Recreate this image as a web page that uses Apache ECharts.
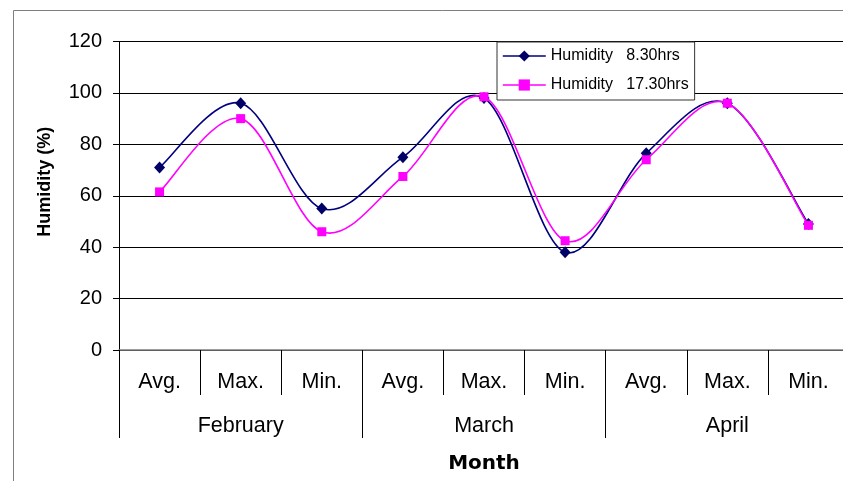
<!DOCTYPE html>
<html>
<head>
<meta charset="utf-8">
<script src="https://cdn.jsdelivr.net/npm/echarts@6/dist/echarts.min.js"></script>
<style>
  html, body { margin: 0; padding: 0; background: #fff; overflow: hidden; }
  #chart { width: 870px; height: 481px; }
</style>
</head>
<body>
<div id="chart"></div>
<script>
// Sub-categories per month and the month groups beneath them
const statLabels = ['Avg.', 'Max.', 'Min.', 'Avg.', 'Max.', 'Min.', 'Avg.', 'Max.', 'Min.'];
const months = ['February', 'March', 'April'];

// Relative humidity (%) readings
const humidity830 = [71, 96, 55, 75, 98, 38, 76.5, 96, 49];
const humidity1730 = [61.5, 90, 46, 67.5, 98.5, 42.5, 74, 96, 48.5];

const yTicks = { min: 0, max: 120, step: 20 };

const seriesNames = ['Humidity   8.30hrs', 'Humidity   17.30hrs'];
const navy = '#000080';
const magenta = '#ff00ff';
const font = '"Liberation Sans", Arial, sans-serif';

// Cardinal (Catmull-Rom) spline through the projected points, so the curve
// may swing slightly past a peak the way spreadsheet smoothing does.
function splinePath(values, api) {
  const pts = values.map((v, i) => api.coord([i, v]));
  let d = 'M' + pts[0][0] + ',' + pts[0][1];
  for (let i = 0; i < pts.length - 1; i++) {
    const p0 = pts[i - 1] || pts[i];
    const p1 = pts[i];
    const p2 = pts[i + 1];
    const p3 = pts[i + 2] || pts[i + 1];
    const c1x = p1[0] + (p2[0] - p0[0]) / 6;
    const c1y = p1[1] + (p2[1] - p0[1]) / 6;
    const c2x = p2[0] - (p3[0] - p1[0]) / 6;
    const c2y = p2[1] - (p3[1] - p1[1]) / 6;
    d += ' C' + c1x + ',' + c1y + ' ' + c2x + ',' + c2y + ' ' + p2[0] + ',' + p2[1];
  }
  return d;
}

function curveSeries(values, color, z) {
  return {
    type: 'custom',
    coordinateSystem: 'cartesian2d',
    data: [[0, values[0]]],
    clip: false,
    silent: true,
    z: z,
    renderItem: function (params, api) {
      return {
        type: 'path',
        shape: { pathData: splinePath(values, api) },
        style: { fill: null, stroke: color, lineWidth: 1.6, lineJoin: 'round', lineCap: 'round' }
      };
    }
  };
}

function markerSeries(name, values, color, symbol, size, z) {
  return {
    name: name,
    type: 'line',
    data: values,
    symbol: symbol,
    symbolSize: size,
    lineStyle: { color: color, width: 1.6, opacity: 0 },
    itemStyle: { color: color },
    z: z
  };
}

const chart = echarts.init(document.getElementById('chart'), null, { renderer: 'canvas' });

chart.setOption({
  animation: false,
  backgroundColor: '#ffffff',
  graphic: [{
    type: 'rect',
    left: 11, top: 8,
    shape: { width: 900, height: 600 },
    style: { fill: 'none', stroke: '#7f7f7f', lineWidth: 1 },
    silent: true,
    z: -10
  }],
  grid: { left: 119, top: 41.5, width: 730, height: 308.5, containLabel: false },
  legend: {
    orient: 'vertical',
    left: 497, top: 42,
    padding: [6, 6, 7, 5],
    itemGap: 13,
    itemWidth: 43, itemHeight: 14,
    backgroundColor: '#ffffff',
    borderColor: '#333333', borderWidth: 1,
    textStyle: { fontFamily: font, fontSize: 16, color: '#000' },
    data: [
      { name: seriesNames[0], lineStyle: { color: navy, width: 1.6, opacity: 1 } },
      { name: seriesNames[1], lineStyle: { color: magenta, width: 1.6, opacity: 1 } }
    ]
  },
  xAxis: [{
    type: 'category',
    data: statLabels,
    boundaryGap: true,
    position: 'bottom',
    axisLine: { show: true, lineStyle: { color: '#7f7f7f', width: 1.5 } },
    axisTick: { show: true, interval: 0, length: 45, lineStyle: { color: '#000', width: 1 } },
    axisLabel: { interval: 0, margin: 21, fontFamily: font, fontSize: 21.5, color: '#000' },
    splitLine: { show: false },
    name: 'Month',
    nameLocation: 'middle',
    nameGap: 104,
    nameTextStyle: { fontFamily: '"DejaVu Sans", sans-serif', fontSize: 20, fontWeight: 'bold', color: '#000' }
  }, {
    type: 'category',
    data: months,
    boundaryGap: true,
    position: 'bottom',
    offset: 0,
    axisLine: { show: false },
    axisTick: { show: true, interval: 0, length: 88, lineStyle: { color: '#000', width: 1 } },
    axisLabel: { interval: 0, margin: 65, fontFamily: font, fontSize: 21.5, color: '#000' },
    splitLine: { show: false }
  }],
  yAxis: {
    type: 'value',
    min: yTicks.min, max: yTicks.max, interval: yTicks.step,
    axisLine: { show: true, lineStyle: { color: '#000', width: 1 } },
    axisTick: { show: true, length: 6, inside: false, lineStyle: { color: '#000' } },
    axisLabel: { margin: 17, fontFamily: font, fontSize: 20, color: '#000' },
    splitLine: { show: true, lineStyle: { color: '#000', width: 1 } },
    name: 'Humidity (%)',
    nameLocation: 'middle',
    nameGap: 65,
    nameTextStyle: { fontFamily: font, fontSize: 18, fontWeight: 'bold', color: '#000', padding: [0, 0, 0, 28] }
  },
  series: [
    curveSeries(humidity830, navy, 2),
    markerSeries(seriesNames[0], humidity830, '#000066', 'diamond', [11, 12], 3),
    curveSeries(humidity1730, magenta, 4),
    markerSeries(seriesNames[1], humidity1730, magenta, 'rect', 9, 5)
  ]
});
</script>
</body>
</html>
